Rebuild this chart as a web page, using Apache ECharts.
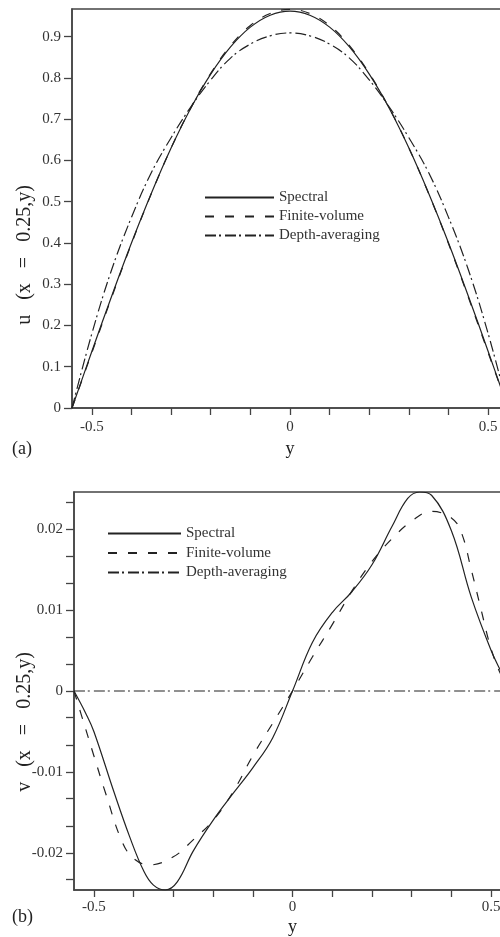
<!DOCTYPE html>
<html>
<head>
<meta charset="utf-8">
<script src="https://cdn.jsdelivr.net/npm/echarts@6/dist/echarts.min.js"></script>
<style>
  html, body { margin: 0; padding: 0; background: #fff; }
  #chart { width: 500px; height: 937px; }
</style>
</head>
<body>
<div id="chart"></div>
<script>
// (a) u(x = 0.25, y)
const yA = [-0.55, -0.5, -0.45, -0.4, -0.35, -0.3, -0.25, -0.2, -0.15, -0.1, -0.05, 0,
            0.05, 0.1, 0.15, 0.2, 0.25, 0.3, 0.35, 0.4, 0.45, 0.5, 0.55];
const uSpectral = [0, 0.137, 0.271, 0.400, 0.520, 0.630, 0.727, 0.809, 0.875, 0.923, 0.952, 0.962,
                   0.952, 0.923, 0.875, 0.809, 0.727, 0.630, 0.520, 0.400, 0.271, 0.137, 0];
const uFinite = [0, 0.134, 0.268, 0.398, 0.519, 0.630, 0.728, 0.811, 0.878, 0.927, 0.956, 0.966,
                 0.956, 0.927, 0.878, 0.811, 0.728, 0.630, 0.519, 0.398, 0.268, 0.134, 0];
const uDepth = [0, 0.180, 0.335, 0.462, 0.570, 0.655, 0.730, 0.795, 0.848, 0.882, 0.902, 0.909,
                0.902, 0.882, 0.848, 0.795, 0.730, 0.655, 0.570, 0.462, 0.335, 0.180, 0];

// (b) v(x = 0.25, y)
const ySpec = [-0.55, -0.52, -0.5, -0.45, -0.41, -0.375, -0.35, -0.32, -0.29, -0.25, -0.2, -0.15, -0.1, -0.05, 0,
               0.05, 0.1, 0.15, 0.2, 0.25, 0.29, 0.32, 0.35, 0.4, 0.45, 0.5, 0.525, 0.55];
const vSpec = [0, -0.0028, -0.0050, -0.0124, -0.0180, -0.0222, -0.0240, -0.0246, -0.0236, -0.0198, -0.0160, -0.0127, -0.0095, -0.0058, 0,
               0.0060, 0.0097, 0.0123, 0.0156, 0.0203, 0.0238, 0.0246, 0.0242, 0.0198, 0.0116, 0.0050, 0.0024, 0];
const yFv = [-0.55, -0.525, -0.5, -0.47, -0.43, -0.4, -0.36, -0.3, -0.25, -0.2, -0.15, -0.1, -0.05, 0,
             0.05, 0.1, 0.15, 0.2, 0.25, 0.3, 0.35, 0.4, 0.425, 0.45, 0.475, 0.5, 0.525, 0.55];
const vFv = [0, -0.0040, -0.0080, -0.0127, -0.0185, -0.0207, -0.0215, -0.0205, -0.0184, -0.0160, -0.0125, -0.0080, -0.0040, 0,
             0.0042, 0.0082, 0.0124, 0.0160, 0.0188, 0.0210, 0.0222, 0.0214, 0.0196, 0.0150, 0.0100, 0.0052, 0.0020, 0];
const yDepthB = [-0.55, 0.55];
const vDepth = [0, 0];

// ticks and labels
const xTicks = [-0.5, -0.4, -0.3, -0.2, -0.1, 0, 0.1, 0.2, 0.3, 0.4, 0.5];
const xLabels = [-0.5, 0, 0.5];
const uTicks = [0, 0.1, 0.2, 0.3, 0.4, 0.5, 0.6, 0.7, 0.8, 0.9];
const vLabels = [-0.02, -0.01, 0, 0.01, 0.02];
const vTicks = [-0.0233, -0.02, -0.0167, -0.0133, -0.01, -0.0067, -0.0033, 0,
                0.0033, 0.0067, 0.01, 0.0133, 0.0167, 0.02, 0.0233];

const FONT = 'Liberation Serif';
const INK = '#222';
const AXIS = '#444';
const dashFv = [9, 11];
const dashDepth = [11, 3, 2, 4];

function pairs(xs, ys) {
  return xs.map((x, i) => [x, ys[i]]);
}

function xAxisOf(gridIndex, labelMargin, nameGap) {
  return {
    type: 'value', gridIndex: gridIndex, min: -0.55, max: 0.55,
    name: 'y', nameLocation: 'middle', nameGap: nameGap,
    nameTextStyle: { fontFamily: FONT, fontSize: 18, color: '#222' },
    axisLine: { onZero: false, lineStyle: { color: AXIS, width: 1.5 } },
    axisTick: { length: 7, customValues: xTicks, lineStyle: { color: AXIS, width: 1.3 } },
    axisLabel: { customValues: xLabels, margin: labelMargin, fontFamily: FONT, fontSize: 15, color: '#333' },
    splitLine: { show: false }
  };
}

function yAxisOf(gridIndex, min, max, ticks, labels) {
  return {
    type: 'value', gridIndex: gridIndex, min: min, max: max,
    axisLine: { show: true, onZero: false, lineStyle: { color: AXIS, width: 1.5 } },
    axisTick: { show: true, length: 8, customValues: ticks, lineStyle: { color: AXIS, width: 1.3 } },
    axisLabel: { customValues: labels, margin: 11, fontFamily: FONT, fontSize: 15, color: '#333' },
    splitLine: { show: false }
  };
}

function line(name, data, axis, type) {
  return {
    name: name, type: 'line', data: data,
    xAxisIndex: axis, yAxisIndex: axis,
    showSymbol: false, symbol: 'none', smooth: 0.4,
    lineStyle: { color: INK, width: 1.2, type: type },
    itemStyle: { color: INK },
    emphasis: { disabled: true }
  };
}

const legendNames = ['Spectral', 'Finite-volume', 'Depth-averaging'];

function legendAt(left, top, width, gap) {
  return {
    data: legendNames, orient: 'vertical', left: left, top: top, padding: 0,
    itemWidth: width, itemHeight: 14, itemGap: gap, selectedMode: false,
    itemStyle: { opacity: 0 },
    textStyle: { fontFamily: FONT, fontSize: 15, color: '#333' }
  };
}

// the plots run past the right edge of the page, as in the source figure
const chart = echarts.init(document.getElementById('chart'));
chart.setOption({
  backgroundColor: '#fff',
  animation: false,
  grid: [
    { left: 72, top: 9, width: 436, height: 399, outerBoundsMode: 'none', show: true, borderColor: AXIS, borderWidth: 1.5 },
    { left: 74, top: 492, width: 437, height: 398, outerBoundsMode: 'none', show: true, borderColor: AXIS, borderWidth: 1.5 }
  ],
  xAxis: [xAxisOf(0, 12, 32), xAxisOf(1, 10, 28)],
  yAxis: [
    yAxisOf(0, 0, 0.967, uTicks, uTicks),
    yAxisOf(1, -0.0246, 0.0246, vTicks, vLabels)
  ],
  legend: [legendAt(204, 190, 69, 4), legendAt(107, 526, 73, 4.5)],
  graphic: [
    { type: 'text', x: 25, y: 255, rotation: Math.PI / 2,
      style: { text: 'u   (x   =   0.25,y)', textAlign: 'center', textVerticalAlign: 'middle', font: '20px "Liberation Serif"', fill: '#222' } },
    { type: 'text', x: 25, y: 722, rotation: Math.PI / 2,
      style: { text: 'v   (x   =   0.25,y)', textAlign: 'center', textVerticalAlign: 'middle', font: '20px "Liberation Serif"', fill: '#222' } },
    { type: 'text', x: 12, y: 449,
      style: { text: '(a)', textAlign: 'left', textVerticalAlign: 'middle', font: '18px "Liberation Serif"', fill: '#222' } },
    { type: 'text', x: 12, y: 917,
      style: { text: '(b)', textAlign: 'left', textVerticalAlign: 'middle', font: '18px "Liberation Serif"', fill: '#222' } }
  ],
  series: [
    line('Spectral', pairs(yA, uSpectral), 0, 'solid'),
    line('Finite-volume', pairs(yA, uFinite), 0, dashFv),
    line('Depth-averaging', pairs(yA, uDepth), 0, dashDepth),
    line('Spectral', pairs(ySpec, vSpec), 1, 'solid'),
    line('Finite-volume', pairs(yFv, vFv), 1, dashFv),
    line('Depth-averaging', pairs(yDepthB, vDepth), 1, dashDepth)
  ]
});
</script>
</body>
</html>
